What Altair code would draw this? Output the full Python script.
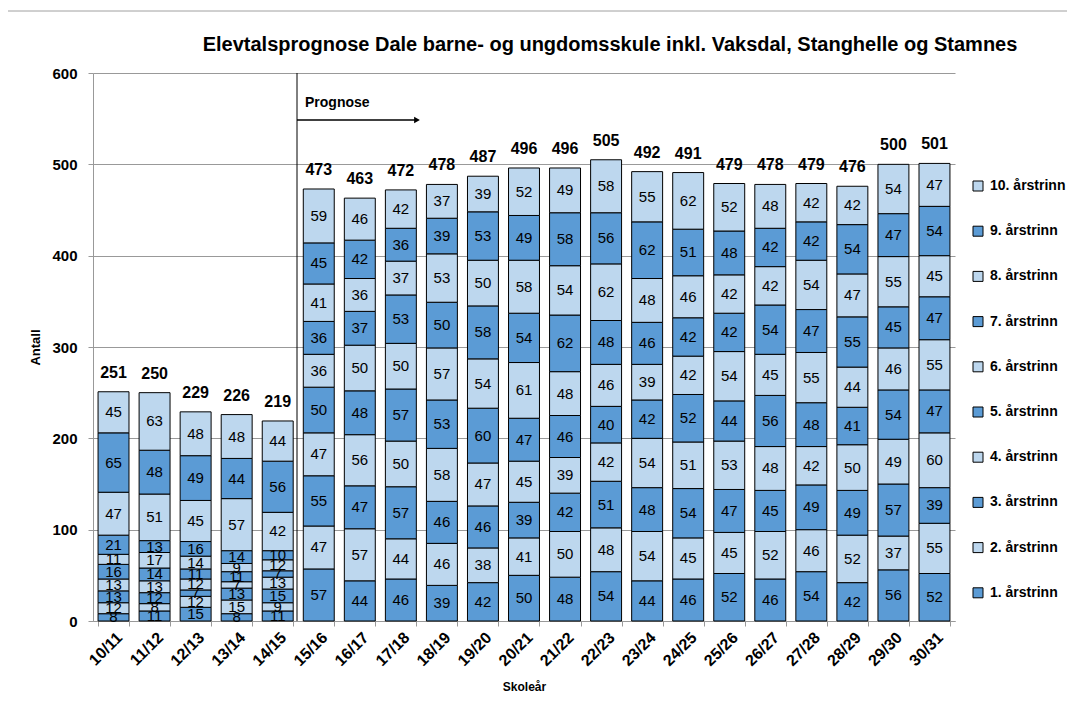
import altair as alt
import pandas as pd

years = ["10/11", "11/12", "12/13", "13/14", "14/15", "15/16", "16/17", "17/18",
         "18/19", "19/20", "20/21", "21/22", "22/23", "23/24", "24/25", "25/26",
         "26/27", "27/28", "28/29", "29/30", "30/31"]

grade_labels = [f"{i}. årstrinn" for i in range(1, 11)]

g1 = [8, 11, 15, 8, 11, 57, 44, 46, 39, 42, 50, 48, 54, 44, 46, 52, 46, 54, 42, 56, 52]
g2 = [12, 8, 12, 15, 9, 47, 57, 44, 46, 38, 41, 50, 48, 54, 45, 45, 52, 46, 52, 37, 55]
g3 = [13, 12, 7, 13, 15, 55, 47, 57, 46, 46, 39, 42, 51, 48, 54, 47, 45, 49, 49, 57, 39]
g4 = [13, 13, 12, 7, 13, 47, 56, 50, 58, 47, 45, 39, 42, 54, 51, 53, 48, 42, 50, 49, 60]
g5 = [16, 14, 11, 11, 7, 50, 48, 57, 53, 60, 47, 46, 40, 42, 52, 44, 56, 48, 41, 54, 47]
g6 = [11, 17, 14, 9, 12, 36, 50, 50, 57, 54, 61, 48, 46, 39, 42, 54, 45, 55, 44, 46, 55]
g7 = [21, 13, 16, 14, 10, 36, 37, 53, 50, 58, 54, 62, 48, 46, 42, 42, 54, 47, 55, 45, 47]
g8 = [47, 51, 45, 57, 42, 41, 36, 37, 53, 50, 58, 54, 62, 48, 46, 42, 42, 54, 47, 55, 45]
g9 = [65, 48, 49, 44, 56, 45, 42, 36, 39, 53, 49, 58, 56, 62, 51, 48, 42, 42, 54, 47, 54]
g10 = [45, 63, 48, 48, 44, 59, 46, 42, 37, 39, 52, 49, 58, 55, 62, 52, 48, 42, 42, 54, 47]

series = [g1, g2, g3, g4, g5, g6, g7, g8, g9, g10]

title_text = "Elevtalsprognose Dale barne- og ungdomsskule inkl. Vaksdal, Stanghelle og Stamnes"

rows = []
for gi, vals in enumerate(series):
    for y, v in zip(years, vals):
        rows.append({"year": y, "grade": grade_labels[gi], "gnum": gi + 1, "value": v})
df = pd.DataFrame(rows)

DARK = "#5B9BD5"
LIGHT = "#BDD7EE"
GRID = "#999999"
FONT = "Liberation Sans"

W, H = 862, 548

legend_domain = grade_labels[::-1]
legend_range = [LIGHT if (int(g.split(".")[0]) % 2 == 0) else DARK for g in legend_domain]

x_enc = alt.X("year:N", sort=years,
              scale=alt.Scale(paddingInner=0.246, paddingOuter=0.123),
              axis=alt.Axis(title="Skoleår", labelAngle=-45, labelFontWeight="bold",
                            labelFontSize=16, labelFont=FONT, tickBand="extent",
                            tickColor=GRID, domainColor=GRID, tickSize=5,
                            titleFont=FONT, titleFontSize=12, titleFontWeight="bold",
                            titleY=65, titleBaseline="middle", labelPadding=3))

y_scale = alt.Scale(domain=[0, 600])

base = alt.Chart(df)

bars = base.mark_bar(stroke="black", strokeWidth=1).encode(
    x=x_enc,
    y=alt.Y("value:Q", stack="zero", scale=y_scale,
            axis=alt.Axis(title="Antall", values=[0, 100, 200, 300, 400, 500, 600],
                          labelFontWeight="bold", labelFontSize=15, labelFont=FONT,
                          gridColor=GRID, domainColor=GRID, tickColor=GRID,
                          tickSize=5, titleFont=FONT, titleFontSize=13,
                          titleFontWeight="bold", titleX=-51, labelPadding=11)),
    color=alt.Color("grade:N", scale=alt.Scale(domain=legend_domain, range=legend_range),
                    legend=alt.Legend(title=None, orient="none", legendX=878, legendY=106,
                                      symbolType="square", symbolSize=100,
                                      symbolStrokeColor="black", symbolStrokeWidth=1,
                                      labelFont=FONT, labelFontSize=14, labelFontWeight="bold",
                                      rowPadding=31.2, labelOffset=5)),
    order=alt.Order("gnum:Q", sort="ascending"),
)

seg_text = base.transform_stack(
    stack="value", groupby=["year"], as_=["v0", "v1"],
    sort=[alt.SortField("gnum", order="ascending")]
).transform_calculate(
    mid="(datum.v0 + datum.v1) / 2"
).mark_text(font=FONT, fontSize=15, color="black", baseline="middle").encode(
    x=alt.X("year:N", sort=years),
    y=alt.Y("mid:Q", scale=y_scale),
    text="value:Q",
)

totals = base.transform_aggregate(
    total="sum(value)", groupby=["year"]
).mark_text(font=FONT, fontSize=16, fontWeight="bold", color="black",
            baseline="alphabetic", dy=-14).encode(
    x=alt.X("year:N", sort=years),
    y=alt.Y("total:Q", scale=y_scale),
    text="total:Q",
)

one = pd.DataFrame({"k": [0]})
ann = alt.Chart(one)

vline = ann.mark_rule(color="black", strokeWidth=1).encode(
    x=alt.value(204), y=alt.value(0), y2=alt.value(H))
arrow = ann.mark_rule(color="black", strokeWidth=1.5).encode(
    x=alt.value(204), x2=alt.value(322), y=alt.value(47))
head = ann.mark_point(shape="triangle-right", filled=True, color="black", size=45,
                      opacity=1).encode(x=alt.value(324), y=alt.value(47))
prog = ann.mark_text(text="Prognose", font=FONT, fontSize=14, fontWeight="bold",
                     align="left", baseline="middle", color="black").encode(
    x=alt.value(212), y=alt.value(30))
title = ann.mark_text(text=title_text, font=FONT, fontSize=20, fontWeight="bold",
                      align="center", baseline="middle", color="black").encode(
    x=alt.value(517), y=alt.value(-28))
frame_top = ann.mark_rule(color="#A0A0A0", strokeWidth=1).encode(
    x=alt.value(-88), x2=alt.value(1000), y=alt.value(-62))

chart = alt.layer(frame_top, bars, seg_text, totals, vline, arrow, head,
                  prog, title).properties(
    width=W, height=H,
    autosize=alt.AutoSizeParams(type="none"),
    padding={"left": 85, "top": 65, "right": 112, "bottom": 72},
).configure_view(stroke=None).configure_axis(
    labelColor="black", titleColor="black"
).configure_legend(labelColor="black")

chart.save("out.html", embed_options={"renderer": "svg", "actions": False})
